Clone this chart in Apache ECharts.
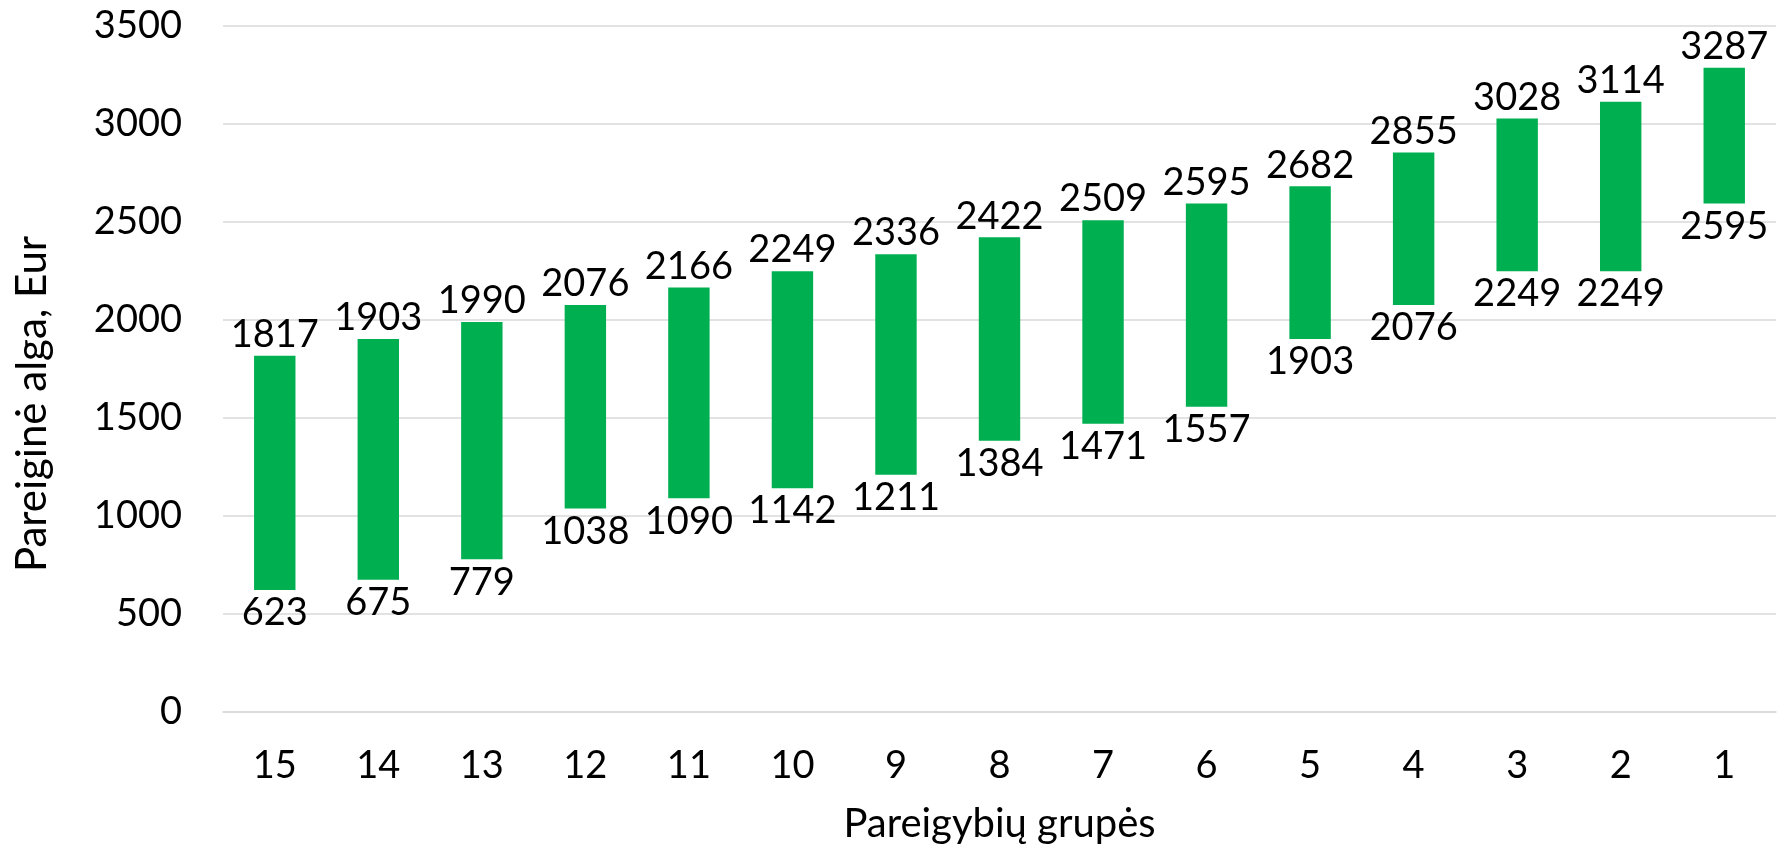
<!DOCTYPE html>
<html>
<head>
<meta charset="utf-8">
<script src="https://cdn.jsdelivr.net/npm/echarts@6/dist/echarts.min.js"></script>
<style>
  html, body { margin: 0; padding: 0; background: #fff; }
  #chart { width: 1785px; height: 849px; }
</style>
</head>
<body>
<div id="chart"></div>
<script>
// pareigybių grupės, from 15 down to 1
const groups = ['15', '14', '13', '12', '11', '10', '9', '8', '7', '6', '5', '4', '3', '2', '1']
const maxPay = [1817, 1903, 1990, 2076, 2166, 2249, 2336, 2422, 2509, 2595, 2682, 2855, 3028, 3114, 3287]
const minPay = [623, 675, 779, 1038, 1090, 1142, 1211, 1384, 1471, 1557, 1903, 2076, 2249, 2249, 2595]

const rangePay = maxPay.map((v, i) => v - minPay[i])

const font = 'Lato, "Noto Sans", sans-serif'

const chart = echarts.init(document.getElementById('chart'))
chart.setOption({
  animation: false,
  grid: {left: 223, right: 9, top: 26, bottom: 137},
  xAxis: {
    type: 'category',
    data: groups,
    name: 'Pareigybių grupės',
    nameLocation: 'middle',
    nameGap: 92,
    nameTextStyle: {fontFamily: font, fontSize: 40, color: '#000'},
    axisLine: {show: true, lineStyle: {color: '#d9d9d9', width: 1.5}},
    axisTick: {show: false},
    axisLabel: {fontFamily: font, fontSize: 38, color: '#000', margin: 35},
  },
  yAxis: {
    type: 'value',
    min: 0,
    max: 3500,
    interval: 500,
    name: 'Pareiginė alga, Eur',
    nameLocation: 'middle',
    nameGap: 170,
    nameTextStyle: {fontFamily: font, fontSize: 42, color: '#000', padding: [0, 70, 0, 0]},
    axisLabel: {fontFamily: font, fontSize: 38, color: '#000', margin: 41, formatter: (v) => String(v)},
    splitLine: {lineStyle: {color: '#d9d9d9', width: 1.5}},
  },
  series: [
    {
      name: 'min',
      type: 'bar',
      stack: 'pay',
      barWidth: '40%',
      data: minPay,
      itemStyle: {color: 'transparent'},
      label: {
        show: true,
        position: 'insideTop',
        distance: 4,
        fontFamily: font,
        fontSize: 38,
        color: '#000',
      },
    },
    {
      name: 'range',
      type: 'bar',
      stack: 'pay',
      barWidth: '40%',
      data: rangePay,
      itemStyle: {color: '#00B050'},
      label: {
        show: true,
        position: 'top',
        distance: 2,
        fontFamily: font,
        fontSize: 38,
        color: '#000',
        formatter: (p) => maxPay[p.dataIndex],
      },
    },
  ],
})
</script>
</body>
</html>
